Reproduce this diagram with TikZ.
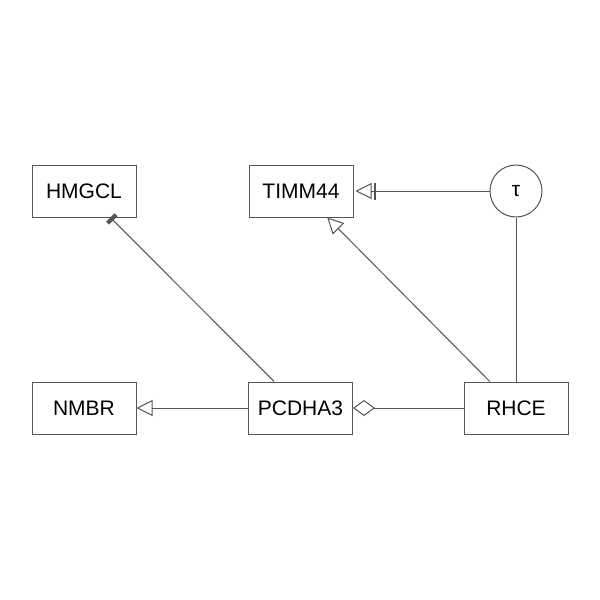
\documentclass[tikz,border=0pt]{standalone}
\usepackage{fontspec}
\setmainfont{Liberation Sans}
\usetikzlibrary{arrows.meta}
\definecolor{ln}{HTML}{555555}
\begin{document}
\begin{tikzpicture}[x=1pt,y=-1pt,
  box/.style={draw=ln,line width=1pt,fill=white,minimum width=104pt,minimum height=52pt,inner sep=0pt,font=\fontsize{21}{23}\selectfont},
  circ/.style={draw=ln,line width=1pt,fill=white,circle,minimum size=52pt,inner sep=0pt,font=\fontsize{21}{23}\selectfont},
  conn/.style={draw=ln,line width=1pt},
  opentri/.style={-{Triangle[open,length=16pt,width=16pt,line width=1pt]}},
  opendia/.style={-{Diamond[open,length=22pt,width=16pt,line width=1pt]}},
  barend/.style={-{Rectangle[length=4pt,width=12pt]}},
  tribar/.style={-{Bar[width=17pt,line width=2.5pt,sep=2pt] Triangle[open,length=16pt,width=16pt,line width=1pt,sep=2pt]}}
]
\useasboundingbox (0,0) rectangle (600,600);
\fill[white] (0,0) rectangle (600,600);
\node[box] (hmgcl) at (84,191) {HMGCL};
\node[box] (timm) at (301,191) {TIMM44};
\node[circ] (tau) at (516,191) {τ};
\node[box] (nmbr) at (84,408) {NMBR};
\node[box] (pcd) at (300.5,408) {PCDHA3};
\node[box] (rhce) at (516,408) {RHCE};
\draw[conn,barend] (pcd) -- (hmgcl);
\draw[conn,opentri] (rhce) -- (timm);
\draw[conn,tribar] (tau) -- (timm);
\draw[conn] (rhce) -- (tau);
\draw[conn,opentri] (pcd) -- (nmbr);
\draw[conn,opendia] (rhce) -- (pcd);
\end{tikzpicture}
\end{document}
